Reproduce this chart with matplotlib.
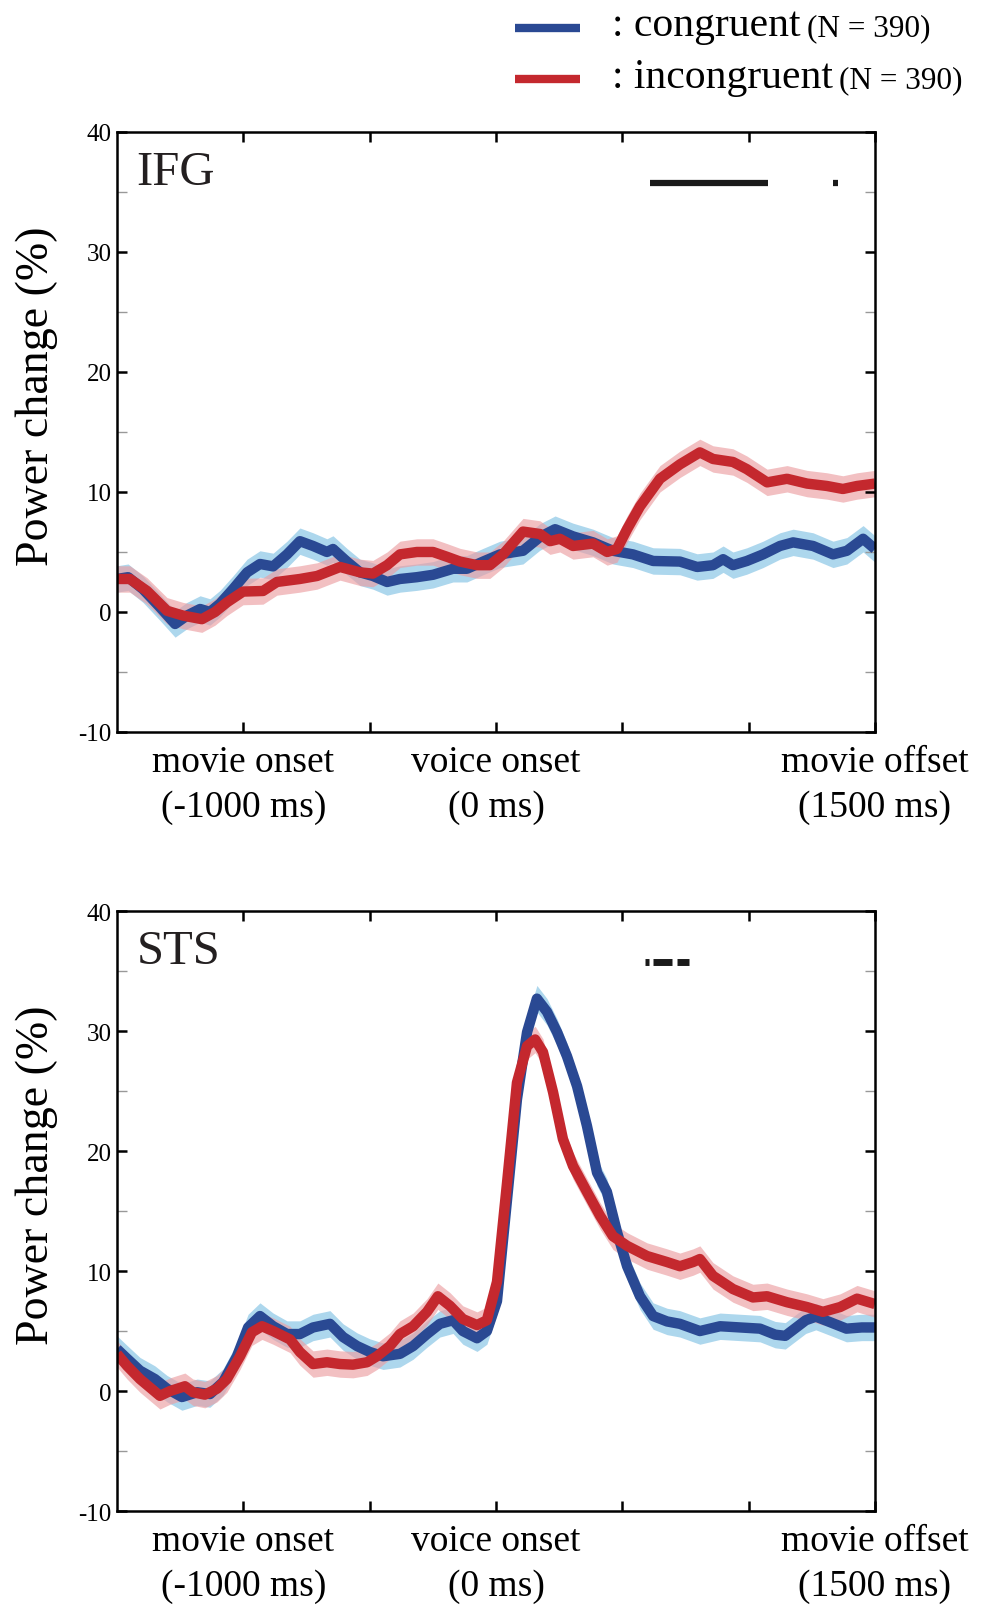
import matplotlib
matplotlib.use('Agg')
import matplotlib.pyplot as plt
from matplotlib.lines import Line2D
from matplotlib.ticker import MultipleLocator
import numpy as np

plt.rcParams['font.family'] = ['Liberation Serif', 'DejaVu Serif']
plt.rcParams['axes.unicode_minus'] = False

# IFG, congruent (blue)
ifg_con_t = [-1500, -1456, -1397, -1330, -1270, -1223, -1171, -1132, -1092, -1041, -985, -934, -882,
             -827, -776, -724, -669, -645, -590, -538, -487, -431, -380, -313, -249, -170, -115, -51,
             16, 107, 174, 234, 305, 384, 463, 542, 622, 728, 796, 859, 899, 938, 993, 1057, 1124,
             1176, 1255, 1334, 1389, 1453, 1500]
ifg_con_v = [2.75, 2.9, 1.9, 0.4, -1.0, -0.3, 0.25, 0.0, 0.7, 1.9, 3.3, 4.0, 3.8,
             4.8, 5.9, 5.5, 5.0, 5.25, 4.2, 3.3, 3.0, 2.5, 2.75, 2.9, 3.1, 3.6, 3.6, 4.2,
             4.8, 5.1, 6.25, 6.9, 6.3, 5.8, 5.1, 4.8, 4.25, 4.2, 3.75, 3.9, 4.4, 3.9, 4.25, 4.8, 5.5,
             5.8, 5.5, 4.8, 5.1, 6.1, 5.25]

# IFG, incongruent (red)
ifg_inc_t = [-1500, -1449, -1381, -1302, -1239, -1164, -1112, -1065, -1001, -922, -867, -776, -708,
             -617, -538, -487, -431, -380, -313, -249, -194, -142, -75, -24, 28, 107, 174, 214, 253,
             305, 384, 440, 479, 519, 570, 649, 728, 807, 859, 938, 993, 1073, 1152, 1231, 1310,
             1373, 1429, 1500]
ifg_inc_v = [2.75, 2.75, 1.75, 0.1, -0.3, -0.6, 0.0, 0.8, 1.7, 1.75, 2.5, 2.75, 3.0,
             3.75, 3.3, 3.2, 3.9, 4.8, 5.0, 5.0, 4.6, 4.2, 3.9, 3.9, 4.8, 6.7, 6.5, 5.9, 6.1,
             5.5, 5.7, 5.0, 5.25, 6.9, 8.8, 11.1, 12.3, 13.3, 12.75, 12.5, 11.9, 10.8, 11.1, 10.7, 10.5,
             10.25, 10.5, 10.7]

# STS, congruent (blue)
sts_con_t = [-1500, -1460, -1409, -1350, -1302, -1243, -1183, -1132, -1080, -1025, -981, -934, -882,
             -827, -776, -724, -657, -605, -550, -499, -447, -380, -328, -273, -222, -170, -131, -75,
             -36, 4, 44, 83, 123, 162, 202, 242, 281, 321, 360, 400, 439, 479, 519, 570, 622, 677,
             728, 807, 887, 966, 1045, 1105, 1145, 1226, 1266, 1327, 1387, 1448, 1500]
sts_con_v = [3.5, 2.7, 1.7, 1.0, 0.2, -0.5, -0.1, -0.25, 0.75, 2.9, 5.3, 6.25, 5.4,
             4.75, 4.75, 5.3, 5.6, 4.5, 3.75, 3.25, 2.9, 3.1, 3.75, 4.75, 5.6, 5.9, 5.0, 4.4,
             5.0, 7.5, 16.0, 24.3, 29.9, 32.7, 31.6, 29.9, 27.9, 25.4, 22.1, 18.2, 16.6, 13.25, 10.4, 7.9,
             6.25, 5.8, 5.6, 5.0, 5.4, 5.3, 5.2, 4.7, 4.6, 5.9, 6.2, 5.7, 5.2, 5.3, 5.3]

# STS, incongruent (red)
sts_inc_t = [-1500, -1460, -1409, -1330, -1290, -1231, -1199, -1152, -1104, -1065, -1013, -966, -926,
             -882, -815, -776, -724, -669, -617, -566, -510, -471, -420, -380, -328, -273, -230, -182,
             -131, -75, -36, 4, 44, 83, 123, 155, 186, 226, 265, 305, 360, 412, 463, 519, 598, 677,
             728, 780, 807, 859, 938, 1017, 1073, 1152, 1231, 1294, 1362, 1429, 1500]
sts_inc_v = [3.1, 2.1, 1.0, -0.4, 0.0, 0.4, -0.1, -0.3, 0.2, 1.0, 2.9, 4.9, 5.4,
             5.0, 4.3, 3.25, 2.25, 2.4, 2.25, 2.2, 2.4, 2.9, 3.75, 4.75, 5.4, 6.6, 7.9, 7.1,
             6.0, 5.5, 5.9, 9.1, 17.4, 25.7, 28.75, 29.3, 28.25, 24.9, 21.0, 18.75, 16.6, 14.6, 12.9,
             12.1, 11.25, 10.75, 10.4, 10.75, 11.0, 9.6, 8.5, 7.8, 7.9, 7.4, 7.0, 6.6, 7.0, 7.7, 7.25]

sem_con = 1.1
sem_inc = 1.1

# significant windows (ms), drawn near the top of each panel
ifg_sig = [(610, 1077), (1334, 1354)]
sts_sig = [(590, 606), (621, 697), (716, 763)]
sig_y = 35.75

tick_pos = [-1000, -500, 0, 500, 1000, 1500]
tick_lab = ['movie onset\n(-1000 ms)', '', 'voice onset\n(0 ms)', '', '', 'movie offset\n(1500 ms)']

blue = '#2a4993'
blue_band = '#9fd0ea'
red = '#c4282e'
red_band = '#ec9ea2'

fig = plt.figure(figsize=(9.88, 16.06), dpi=100)
ax1 = fig.add_axes([0.1184, 0.5436, 0.7672, 0.3736])
ax2 = fig.add_axes([0.1184, 0.0585, 0.7672, 0.3736])

panels = [
    (ax1, 'IFG', ifg_con_t, ifg_con_v, ifg_inc_t, ifg_inc_v, ifg_sig, 4.5),
    (ax2, 'STS', sts_con_t, sts_con_v, sts_inc_t, sts_inc_v, sts_sig, 5.0),
]

for ax, name, ct, cv, it, iv, sig, sig_lw in panels:
    ct = np.array(ct); cv = np.array(cv)
    it = np.array(it); iv = np.array(iv)
    ax.fill_between(ct, cv - sem_con, cv + sem_con, color=blue_band, alpha=0.85, lw=0)
    ax.plot(ct, cv, color=blue, lw=7.5, solid_joinstyle='round', solid_capstyle='butt')
    ax.fill_between(it, iv - sem_inc, iv + sem_inc, color=red_band, alpha=0.65, lw=0)
    ax.plot(it, iv, color=red, lw=7.5, solid_joinstyle='round', solid_capstyle='butt')

    for s0, s1 in sig:
        ax.hlines(sig_y, s0, s1, color='#1a1a1a', lw=sig_lw)

    ax.set_xlim(-1500, 1500)
    ax.set_ylim(-10, 40)
    ax.set_xticks(tick_pos)
    ax.set_xticklabels(tick_lab, fontsize=27, linespacing=1.4)
    ax.set_yticks([-10, 0, 10, 20, 30, 40])
    ax.yaxis.set_minor_locator(MultipleLocator(5))
    ax.tick_params(axis='both', which='major', direction='in', length=7, width=1.8,
                   top=True, right=True)
    ax.tick_params(axis='y', which='minor', direction='in', length=7, width=1.0,
                   color='#999999', left=True, right=True)
    ax.tick_params(axis='x', which='major', pad=9)
    ax.tick_params(axis='y', which='major', labelsize=18, pad=4)
    for sp in ax.spines.values():
        sp.set_linewidth(1.8)

    ax.text(0.026, 0.913, name, transform=ax.transAxes, fontsize=35,
            va='baseline', ha='left', color='#231f20')
    ax.text(-0.106, 0.562, 'Power change (%)', transform=ax.transAxes, fontsize=33,
            rotation=90, ha='center', va='center')

# legend drawn in figure coordinates
legend_rows = [(blue, ': congruent', 0.9818, 0.9776), (red, ': incongruent', 0.9500, 0.9452)]
for col, lab, ly, ty in legend_rows:
    fig.add_artist(Line2D([0.521, 0.587], [ly, ly], color=col, lw=6,
                          solid_capstyle='butt', transform=fig.transFigure))
    t = fig.text(0.619, ty, lab, fontsize=30, va='baseline', ha='left')
    ax1.annotate('(N = 390)', xy=(1, ty), xycoords=(t, 'figure fraction'),
                 xytext=(5, 0), textcoords='offset points', fontsize=22.5,
                 va='baseline', ha='left', annotation_clip=False)

fig.savefig('out.png', dpi=100)
